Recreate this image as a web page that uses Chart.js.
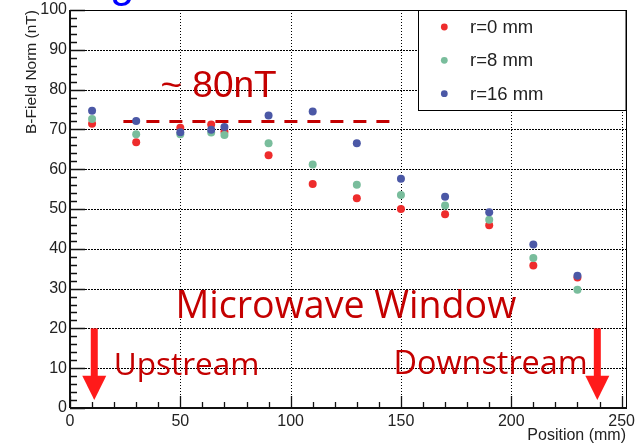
<!DOCTYPE html>
<html>
<head>
<meta charset="utf-8">
<script src="https://cdn.jsdelivr.net/npm/chart.js@4"></script>
<style>
html,body{margin:0;padding:0;background:#fff;}
#wrap{width:636px;height:443px;}
</style>
</head>
<body>
<div id="wrap"><canvas id="c" width="636" height="443"></canvas></div>
<script>
// ---- data ----
const positions = [10, 30, 50, 64, 70, 90, 110, 130, 150, 170, 190, 210, 230];
const r0  = [71.4, 66.8, 70.4, 71.2, 69.4, 63.5, 56.3, 52.7, 50.0, 48.7, 45.9, 35.8, 32.8];
const r8  = [72.6, 68.8, 68.8, 69.2, 68.6, 66.5, 61.2, 56.1, 53.5, 50.9, 47.3, 37.7, 29.7];
const r16 = [74.7, 72.1, 69.3, 69.9, 70.6, 73.5, 74.5, 66.5, 57.6, 53.1, 49.2, 41.1, 33.2];
const seriesLabels = ['r=0 mm', 'r=8 mm', 'r=16 mm'];
const seriesColors = ['#ee2c2c', '#79bd9c', '#4b58a6'];
const dashX = [24.2, 145.9];
const dashY = [72, 72];
const xTicks = [0, 50, 100, 150, 200, 250];
const yTicks = [0, 10, 20, 30, 40, 50, 60, 70, 80, 90, 100];
const xMax = 252;
const yMax = 100;
const arrowX = [11, 239];          // arrow positions (mm)
const arrowY = [20, 8.1, 2.0];     // shaft top, head start, tip (nT)
const notes = [
  {text: '~ 80nT', x: 41.0, y: 78.2, font: '37px "Liberation Sans"'},
  {text: 'Microwave Window', x: 47.8, y: 22.6, font: '37.6px "Open Sans"'},
  {text: 'Upstream', x: 19.8, y: 8.4, font: '31.5px "Open Sans"'},
  {text: 'Downstream', x: 146.6, y: 8.6, font: '32.4px "Open Sans"'}
];

const toPts = arr => positions.map((p, i) => ({x: p, y: arr[i]}));
const zeroPad = s => { s.paddingLeft = 0; s.paddingRight = 0; s.paddingTop = 0; s.paddingBottom = 0; };
const tickFont = {family: 'Liberation Sans', size: 16};

function box(chart) {
  const xs = chart.scales.x, ys = chart.scales.y;
  return {xs, ys,
    L: Math.round(xs.getPixelForValue(0)), R: Math.round(xs.getPixelForValue(xMax)),
    T: Math.round(ys.getPixelForValue(yMax)), B: Math.round(ys.getPixelForValue(0))};
}

function drawGrid(chart) {
  const ctx = chart.ctx;
  const {xs, ys, L, R, T, B} = box(chart);
  ctx.save();
  ctx.strokeStyle = '#000';
  ctx.lineWidth = 1;
  ctx.setLineDash([1, 2]);
  yTicks.forEach(v => {
    if (v === 0 || v === yMax) return;
    const py = Math.round(ys.getPixelForValue(v)) + 0.5;
    ctx.strokeRect(L, py, R - L, 0);
  });
  xTicks.forEach(v => {
    if (v === 0) return;
    const px = Math.round(xs.getPixelForValue(v)) + 0.5;
    ctx.strokeRect(px, T, 0, B - T);
  });
  ctx.restore();
}

function drawFrame(chart) {
  const ctx = chart.ctx;
  const {xs, ys, L, R, T, B} = box(chart);
  ctx.save();
  ctx.setLineDash([]);
  ctx.strokeStyle = '#111';
  ctx.lineWidth = 1.3;
  for (let v = 0; v <= yMax; v += 2) {
    const py = Math.round(ys.getPixelForValue(v)) + 0.5;
    ctx.strokeRect(L, py, (v % 10 === 0) ? 15 : 7, 0);
  }
  for (let v = 0; v <= 250; v += 10) {
    const px = Math.round(xs.getPixelForValue(v)) + 0.5;
    const len = (v % 50 === 0) ? 12 : 6;
    ctx.strokeRect(px, B - len, 0, len);
  }
  ctx.strokeStyle = '#000';
  ctx.lineWidth = 1;
  ctx.strokeRect(L + 0.5, T + 0.5, R - L, B - T);
  ctx.strokeStyle = '#111';
  ctx.lineWidth = 2;
  ctx.strokeRect(L, T, 0, B - T);
  ctx.strokeRect(L, B, R - L + 1, 0);
  ctx.restore();
}

function drawOverlay(chart) {
  const ctx = chart.ctx;
  const xs = chart.scales.x, ys = chart.scales.y;
  ctx.save();
  ctx.fillStyle = '#ff1a1a';
  arrowX.forEach(v => {
    const px = xs.getPixelForValue(v);
    const y0 = ys.getPixelForValue(arrowY[0]);
    const y1 = ys.getPixelForValue(arrowY[1]);
    const y2 = ys.getPixelForValue(arrowY[2]);
    ctx.fillRect(px - 3.5, y0, 7, y1 - y0 + 1);
    ctx.beginPath();
    ctx.moveTo(px - 12, y1); ctx.lineTo(px + 12, y1); ctx.lineTo(px, y2);
    ctx.closePath(); ctx.fill();
  });
  ctx.fillStyle = '#c40000';
  ctx.textBaseline = 'alphabetic';
  ctx.textAlign = 'left';
  notes.forEach(n => {
    ctx.font = n.font;
    ctx.fillText(n.text, xs.getPixelForValue(n.x), ys.getPixelForValue(n.y));
  });
  ctx.fillStyle = '#0000ff';
  ctx.font = '44px "Liberation Sans"';
  ctx.fillText('g', 110, -3);
  const lx = 418.5, ly = 10.5, lw = 207.5, lh = 100;
  ctx.fillStyle = '#fff';
  ctx.fillRect(lx, ly, lw, lh);
  ctx.strokeStyle = '#000';
  ctx.lineWidth = 1;
  ctx.strokeRect(lx, ly, lw, lh);
  const rows = [27, 60.3, 93.7];
  ctx.font = '18.5px "Liberation Sans"';
  ctx.textBaseline = 'middle';
  seriesLabels.forEach((t, i) => {
    ctx.fillStyle = seriesColors[i];
    ctx.beginPath(); ctx.arc(444.3, rows[i], 3.4, 0, Math.PI * 2); ctx.fill();
    ctx.fillStyle = '#222';
    ctx.fillText(t, 470, rows[i] + 1);
  });
  ctx.restore();
}

const rootPlugin = {
  id: 'rootStyle',
  beforeDatasetsDraw(chart) { drawGrid(chart); },
  afterDatasetsDraw(chart) { drawFrame(chart); drawOverlay(chart); }
};

new Chart(document.getElementById('c'), {
  type: 'scatter',
  data: {
    datasets: [
      {label: 'dash', type: 'line', data: dashX.map((v, i) => ({x: v, y: dashY[i]})),
       borderColor: '#c40000', borderWidth: 3, borderDash: [13, 10], pointRadius: 0, fill: false, order: 4},
      {label: seriesLabels[0], data: toPts(r0), backgroundColor: seriesColors[0], pointRadius: 4, pointBorderWidth: 0, order: 3},
      {label: seriesLabels[1], data: toPts(r8), backgroundColor: seriesColors[1], pointRadius: 4, pointBorderWidth: 0, order: 2},
      {label: seriesLabels[2], data: toPts(r16), backgroundColor: seriesColors[2], pointRadius: 4, pointBorderWidth: 0, order: 1}
    ]
  },
  options: {
    responsive: false,
    animation: false,
    devicePixelRatio: 1,
    layout: {padding: {left: 0, top: 10, right: 10, bottom: 0}},
    plugins: {legend: {display: false}, tooltip: {enabled: false}},
    scales: {
      x: {
        type: 'linear', min: 0, max: xMax, position: 'bottom',
        afterFit(s) { s.height = 35; zeroPad(s); },
        afterBuildTicks(s) { s.ticks = xTicks.map(v => ({value: v})); },
        grid: {display: false, drawTicks: false},
        border: {display: false},
        ticks: {font: tickFont, color: '#222', padding: 4, autoSkip: false, maxRotation: 0, includeBounds: false},
        title: {display: true, text: 'Position (mm)', align: 'end', color: '#222',
                font: {family: 'Liberation Sans', size: 16, lineHeight: 1}, padding: {top: 0, bottom: -1}}
      },
      y: {
        type: 'linear', min: 0, max: yMax, position: 'left',
        afterFit(s) { s.width = 70; zeroPad(s); },
        afterBuildTicks(s) { s.ticks = yTicks.map(v => ({value: v})); },
        grid: {display: false, drawTicks: false},
        border: {display: false},
        ticks: {font: tickFont, color: '#222', padding: 3, autoSkip: false, includeBounds: false},
        title: {display: true, text: 'B-Field Norm (nT)', align: 'end', color: '#222',
                font: {family: 'Liberation Sans', size: 15.5, lineHeight: 1}, padding: {top: 24, bottom: 0}}
      }
    }
  },
  plugins: [rootPlugin]
});
</script>
</body>
</html>
